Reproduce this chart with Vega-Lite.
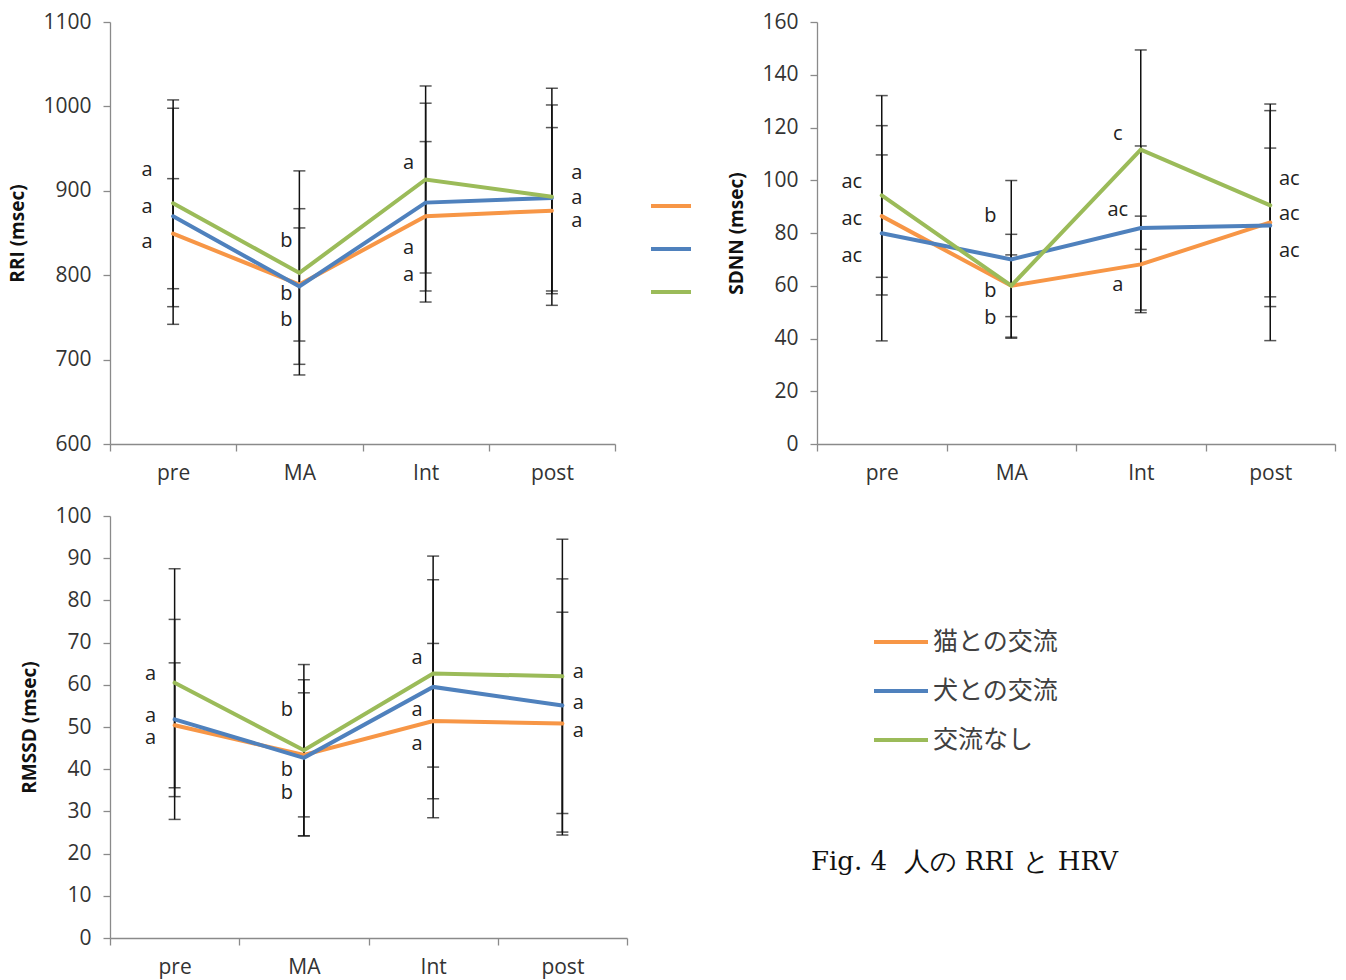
{
  "$schema": "https://vega.github.io/schema/vega-lite/v6.json",
  "padding": {"left": 8, "top": 11, "right": 5, "bottom": 5},
  "config": {
    "view": {"stroke": null},
    "font": "Open Sans",
    "axis": {"domainColor": "#8a8a8a", "tickColor": "#8a8a8a", "domainWidth": 1.3, "tickWidth": 1.3, "labelFont": "Open Sans", "labelFontSize": 21, "labelColor": "#333333", "titleFont": "Open Sans", "titleFontWeight": "bold", "titleFontSize": 19, "titleColor": "#111111", "grid": false},
    "axisY": {"tickSize": 7, "labelPadding": 12, "titlePadding": 15, "format": "d"},
    "axisX": {"tickSize": 7, "labelPadding": 11, "title": null, "tickBand": "extent", "labelAngle": 0}
  },
  "datasets": {
    "means": [
      {"panel": "RRI", "time": "pre", "group": "猫との交流", "mean": 849.2, "sd": 65.2},
      {"panel": "RRI", "time": "MA", "group": "猫との交流", "mean": 789.0, "sd": 67.0},
      {"panel": "RRI", "time": "Int", "group": "猫との交流", "mean": 869.8, "sd": 88.5},
      {"panel": "RRI", "time": "post", "group": "猫との交流", "mean": 876.5, "sd": 98.4},
      {"panel": "RRI", "time": "pre", "group": "犬との交流", "mean": 869.8, "sd": 128.0},
      {"panel": "RRI", "time": "MA", "group": "犬との交流", "mean": 786.6, "sd": 92.2},
      {"panel": "RRI", "time": "Int", "group": "犬との交流", "mean": 886.0, "sd": 117.8},
      {"panel": "RRI", "time": "post", "group": "犬との交流", "mean": 891.5, "sd": 110.2},
      {"panel": "RRI", "time": "pre", "group": "交流なし", "mean": 885.2, "sd": 122.5},
      {"panel": "RRI", "time": "MA", "group": "交流なし", "mean": 802.7, "sd": 120.9},
      {"panel": "RRI", "time": "Int", "group": "交流なし", "mean": 913.4, "sd": 110.8},
      {"panel": "RRI", "time": "post", "group": "交流なし", "mean": 892.9, "sd": 128.6},
      {"panel": "SDNN", "time": "pre", "group": "猫との交流", "mean": 86.4, "sd": 23.2},
      {"panel": "SDNN", "time": "MA", "group": "猫との交流", "mean": 60.0, "sd": 11.7},
      {"panel": "SDNN", "time": "Int", "group": "猫との交流", "mean": 68.1, "sd": 18.3},
      {"panel": "SDNN", "time": "post", "group": "猫との交流", "mean": 84.0, "sd": 28.2},
      {"panel": "SDNN", "time": "pre", "group": "犬との交流", "mean": 79.9, "sd": 40.8},
      {"panel": "SDNN", "time": "MA", "group": "犬との交流", "mean": 70.0, "sd": 29.9},
      {"panel": "SDNN", "time": "Int", "group": "犬との交流", "mean": 81.9, "sd": 31.1},
      {"panel": "SDNN", "time": "post", "group": "犬との交流", "mean": 82.8, "sd": 43.6},
      {"panel": "SDNN", "time": "pre", "group": "交流なし", "mean": 94.3, "sd": 37.8},
      {"panel": "SDNN", "time": "MA", "group": "交流なし", "mean": 60.0, "sd": 19.5},
      {"panel": "SDNN", "time": "Int", "group": "交流なし", "mean": 111.6, "sd": 37.8},
      {"panel": "SDNN", "time": "post", "group": "交流なし", "mean": 90.5, "sd": 38.4},
      {"panel": "RMSSD", "time": "pre", "group": "猫との交流", "mean": 50.4, "sd": 14.8},
      {"panel": "RMSSD", "time": "MA", "group": "猫との交流", "mean": 43.4, "sd": 14.7},
      {"panel": "RMSSD", "time": "Int", "group": "猫との交流", "mean": 51.4, "sd": 18.4},
      {"panel": "RMSSD", "time": "post", "group": "猫との交流", "mean": 50.8, "sd": 26.4},
      {"panel": "RMSSD", "time": "pre", "group": "犬との交流", "mean": 51.8, "sd": 23.7},
      {"panel": "RMSSD", "time": "MA", "group": "犬との交流", "mean": 42.7, "sd": 18.5},
      {"panel": "RMSSD", "time": "Int", "group": "犬との交流", "mean": 59.5, "sd": 31.0},
      {"panel": "RMSSD", "time": "post", "group": "犬との交流", "mean": 55.1, "sd": 30.0},
      {"panel": "RMSSD", "time": "pre", "group": "交流なし", "mean": 60.5, "sd": 27.0},
      {"panel": "RMSSD", "time": "MA", "group": "交流なし", "mean": 44.5, "sd": 20.3},
      {"panel": "RMSSD", "time": "Int", "group": "交流なし", "mean": 62.7, "sd": 22.2},
      {"panel": "RMSSD", "time": "post", "group": "交流なし", "mean": 62.0, "sd": 32.5}
    ],
    "letters": [
      {"panel": "RRI", "time": "pre", "pos": 924.6, "letter": "a"},
      {"panel": "RRI", "time": "pre", "pos": 880.8, "letter": "a"},
      {"panel": "RRI", "time": "pre", "pos": 839.3, "letter": "a"},
      {"panel": "RRI", "time": "MA", "pos": 840.5, "letter": "b"},
      {"panel": "RRI", "time": "MA", "pos": 777.7, "letter": "b"},
      {"panel": "RRI", "time": "MA", "pos": 746.9, "letter": "b"},
      {"panel": "RRI", "time": "Int", "pos": 932.9, "letter": "a"},
      {"panel": "RRI", "time": "Int", "pos": 832.2, "letter": "a"},
      {"panel": "RRI", "time": "Int", "pos": 800.2, "letter": "a"},
      {"panel": "RRI", "time": "post", "pos": 921.0, "letter": "a"},
      {"panel": "RRI", "time": "post", "pos": 891.5, "letter": "a"},
      {"panel": "RRI", "time": "post", "pos": 864.2, "letter": "a"},
      {"panel": "SDNN", "time": "pre", "pos": 99.3, "letter": "ac"},
      {"panel": "SDNN", "time": "pre", "pos": 85.3, "letter": "ac"},
      {"panel": "SDNN", "time": "pre", "pos": 71.3, "letter": "ac"},
      {"panel": "SDNN", "time": "MA", "pos": 86.4, "letter": "b"},
      {"panel": "SDNN", "time": "MA", "pos": 58.0, "letter": "b"},
      {"panel": "SDNN", "time": "MA", "pos": 47.8, "letter": "b"},
      {"panel": "SDNN", "time": "Int", "pos": 117.5, "letter": "c"},
      {"panel": "SDNN", "time": "Int", "pos": 88.7, "letter": "ac"},
      {"panel": "SDNN", "time": "Int", "pos": 60.3, "letter": "a"},
      {"panel": "SDNN", "time": "post", "pos": 100.5, "letter": "ac"},
      {"panel": "SDNN", "time": "post", "pos": 87.2, "letter": "ac"},
      {"panel": "SDNN", "time": "post", "pos": 73.2, "letter": "ac"},
      {"panel": "RMSSD", "time": "pre", "pos": 62.6, "letter": "a"},
      {"panel": "RMSSD", "time": "pre", "pos": 52.6, "letter": "a"},
      {"panel": "RMSSD", "time": "pre", "pos": 47.4, "letter": "a"},
      {"panel": "RMSSD", "time": "MA", "pos": 54.0, "letter": "b"},
      {"panel": "RMSSD", "time": "MA", "pos": 39.8, "letter": "b"},
      {"panel": "RMSSD", "time": "MA", "pos": 34.4, "letter": "b"},
      {"panel": "RMSSD", "time": "Int", "pos": 66.4, "letter": "a"},
      {"panel": "RMSSD", "time": "Int", "pos": 54.0, "letter": "a"},
      {"panel": "RMSSD", "time": "Int", "pos": 46.0, "letter": "a"},
      {"panel": "RMSSD", "time": "post", "pos": 63.0, "letter": "a"},
      {"panel": "RMSSD", "time": "post", "pos": 55.7, "letter": "a"},
      {"panel": "RMSSD", "time": "post", "pos": 49.1, "letter": "a"}
    ]
  },
  "bounds": "flush",
  "columns": 2,
  "spacing": {"row": 72, "column": 190},
  "resolve": {"scale": {"color": "independent", "x": "independent", "y": "independent"}, "legend": {"color": "independent"}},
  "concat": [
    {
      "width": 505,
      "height": 422,
      "encoding": {"x": {"field": "time", "type": "nominal", "sort": ["pre", "MA", "Int", "post"], "scale": {"paddingInner": 0, "paddingOuter": 0}}},
      "layer": [
        {
          "data": {"name": "means"},
          "transform": [{"filter": "datum.panel === 'RRI'"}],
          "mark": {"type": "errorbar", "ticks": {"size": 12, "thickness": 1.5, "color": "#111111"}, "rule": {"strokeWidth": 1.5, "color": "#111111"}},
          "encoding": {
            "y": {"field": "mean", "type": "quantitative", "scale": {"domain": [600, 1100], "nice": false, "zero": false}, "axis": {"title": "RRI (msec)", "values": [600, 700, 800, 900, 1000, 1100]}},
            "yError": {"field": "sd"}
          }
        },
        {
          "data": {"name": "means"},
          "transform": [{"filter": "datum.panel === 'RRI'"}],
          "mark": {"type": "line", "strokeWidth": 4, "strokeCap": "round"},
          "encoding": {
            "y": {"field": "mean", "type": "quantitative", "title": "RRI (msec)"},
            "color": {"field": "group", "type": "nominal", "scale": {"domain": ["猫との交流", "犬との交流", "交流なし"], "range": ["#F79646", "#4F81BD", "#9BBB59"]},
              "legend": {"orient": "none", "legendX": 539, "legendY": 162, "title": null, "labelExpr": "''", "symbolType": "stroke", "symbolSize": 1600, "symbolStrokeWidth": 4, "rowPadding": 13, "padding": 0, "labelOffset": 0}}
          }
        },
        {
          "data": {"name": "letters"},
          "transform": [{"filter": "datum.panel === 'RRI'"}],
          "mark": {"type": "text", "font": "Open Sans", "fontSize": 20, "color": "#222222", "baseline": "middle", "align": "center", "dx": {"expr": "datum.time === 'pre' ? -26 : datum.time === 'MA' ? -13 : datum.time === 'Int' ? -17 : 25"}},
          "encoding": {
            "y": {"field": "pos", "type": "quantitative"},
            "text": {"field": "letter"}
          }
        }
      ]
    },
    {
      "width": 518,
      "height": 422,
      "encoding": {"x": {"field": "time", "type": "nominal", "sort": ["pre", "MA", "Int", "post"], "scale": {"paddingInner": 0, "paddingOuter": 0}}},
      "layer": [
        {
          "data": {"name": "means"},
          "transform": [{"filter": "datum.panel === 'SDNN'"}],
          "mark": {"type": "errorbar", "ticks": {"size": 12, "thickness": 1.5, "color": "#111111"}, "rule": {"strokeWidth": 1.5, "color": "#111111"}},
          "encoding": {
            "y": {"field": "mean", "type": "quantitative", "scale": {"domain": [0, 160], "nice": false}, "axis": {"title": "SDNN (msec)", "values": [0, 20, 40, 60, 80, 100, 120, 140, 160]}},
            "yError": {"field": "sd"}
          }
        },
        {
          "data": {"name": "means"},
          "transform": [{"filter": "datum.panel === 'SDNN'"}],
          "mark": {"type": "line", "strokeWidth": 4, "strokeCap": "round"},
          "encoding": {
            "y": {"field": "mean", "type": "quantitative", "title": "SDNN (msec)"},
            "color": {"field": "group", "type": "nominal", "scale": {"domain": ["猫との交流", "犬との交流", "交流なし"], "range": ["#F79646", "#4F81BD", "#9BBB59"]}, "legend": null}
          }
        },
        {
          "data": {"name": "letters"},
          "transform": [{"filter": "datum.panel === 'SDNN'"}],
          "mark": {"type": "text", "font": "Open Sans", "fontSize": 20, "color": "#222222", "baseline": "middle", "align": "center", "dx": {"expr": "datum.time === 'pre' ? -30 : datum.time === 'MA' ? -21 : datum.time === 'Int' ? -23 : 19"}},
          "encoding": {
            "y": {"field": "pos", "type": "quantitative"},
            "text": {"field": "letter"}
          }
        }
      ]
    },
    {
      "width": 517,
      "height": 422,
      "encoding": {"x": {"field": "time", "type": "nominal", "sort": ["pre", "MA", "Int", "post"], "scale": {"paddingInner": 0, "paddingOuter": 0}}},
      "layer": [
        {
          "data": {"name": "means"},
          "transform": [{"filter": "datum.panel === 'RMSSD'"}],
          "mark": {"type": "errorbar", "ticks": {"size": 12, "thickness": 1.5, "color": "#111111"}, "rule": {"strokeWidth": 1.5, "color": "#111111"}},
          "encoding": {
            "y": {"field": "mean", "type": "quantitative", "scale": {"domain": [0, 100], "nice": false}, "axis": {"title": "RMSSD (msec)", "values": [0, 10, 20, 30, 40, 50, 60, 70, 80, 90, 100]}},
            "yError": {"field": "sd"}
          }
        },
        {
          "data": {"name": "means"},
          "transform": [{"filter": "datum.panel === 'RMSSD'"}],
          "mark": {"type": "line", "strokeWidth": 4, "strokeCap": "round"},
          "encoding": {
            "y": {"field": "mean", "type": "quantitative", "title": "RMSSD (msec)"},
            "color": {"field": "group", "type": "nominal", "scale": {"domain": ["猫との交流", "犬との交流", "交流なし"], "range": ["#F79646", "#4F81BD", "#9BBB59"]},
              "legend": {"orient": "none", "legendX": 701, "legendY": 104, "title": "Fig. 4\u00a0\u00a0人の RRI と HRV", "titleOrient": "bottom", "titleAnchor": "start", "titleFont": "DejaVu Serif", "titleFontSize": 26, "titleFontWeight": "normal", "titleColor": "#111111", "titlePadding": 96, "titleLimit": 0, "symbolType": "M2.05,0H4.75", "symbolSize": 1600, "symbolStrokeWidth": 4, "rowPadding": 14, "padding": 0, "labelOffset": 78, "labelFont": "Noto Sans CJK JP", "labelFontSize": 25, "labelColor": "#404040", "labelLimit": 0}}
          }
        },
        {
          "data": {"name": "letters"},
          "transform": [{"filter": "datum.panel === 'RMSSD'"}],
          "mark": {"type": "text", "font": "Open Sans", "fontSize": 20, "color": "#222222", "baseline": "middle", "align": "center", "dx": {"expr": "datum.time === 'pre' ? -24 : datum.time === 'MA' ? -17 : datum.time === 'Int' ? -16 : 16"}},
          "encoding": {
            "y": {"field": "pos", "type": "quantitative"},
            "text": {"field": "letter"}
          }
        }
      ]
    }
  ]
}
